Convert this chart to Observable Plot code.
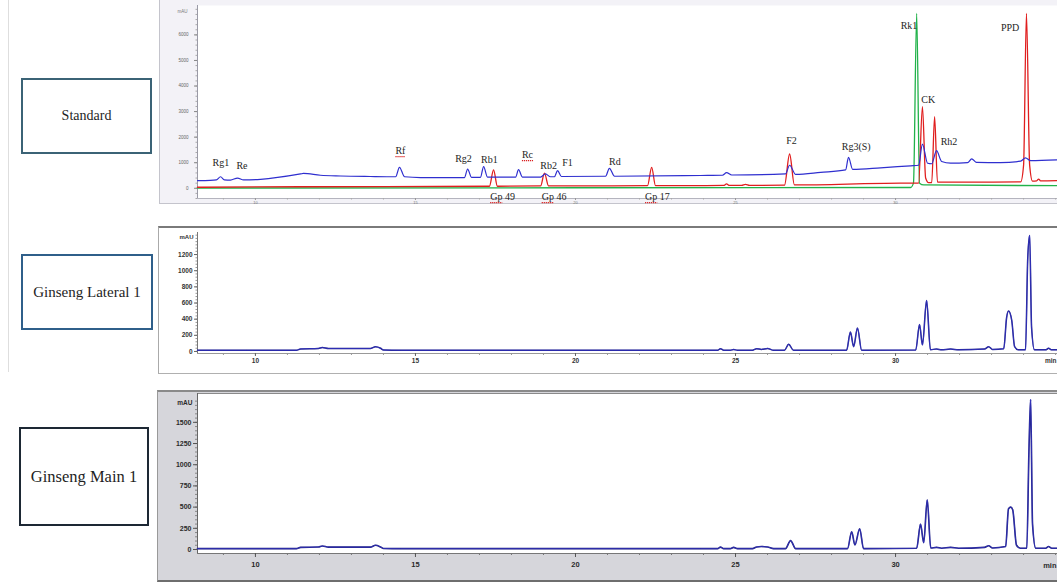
<!DOCTYPE html>
<html>
<head>
<meta charset="utf-8">
<script src="https://cdn.jsdelivr.net/npm/d3@7"></script>
<script src="https://cdn.jsdelivr.net/npm/@observablehq/plot@0.6"></script>
<style>
  html, body { margin: 0; padding: 0; background: #fff; width: 1057px; height: 584px; overflow: hidden; }
  body { position: relative; font-family: "Liberation Serif", "Times New Roman", serif; }
  .abs { position: absolute; }
  .box { position: absolute; box-sizing: border-box; display: flex; align-items: center; justify-content: center;
         background: #fff; color: #1e1e1e; font-family: "Liberation Serif", "Times New Roman", serif; white-space: nowrap; }
  .panel svg { display: block; }
</style>
</head>
<body>
<div class="abs" style="left:8px;top:0;width:1px;height:372px;background:#dedede"></div>

<div class="box" style="left:21px;top:78px;width:131px;height:76px;border:2px solid #3b6376;font-size:14px">Standard</div>
<div class="box" style="left:21px;top:254px;width:132px;height:76px;border:2px solid #2f5f8a;font-size:15px">Ginseng Lateral 1</div>
<div class="box" style="left:19px;top:427px;width:130px;height:99px;border:2px solid #1d2834;font-size:16.5px">Ginseng Main 1</div>

<!-- panel frames -->
<div class="abs" style="left:159px;top:0;width:898px;height:203px;border-left:1px solid #c4c4cc;border-bottom:1px solid #c4c4cc;background:#f3f2f7"></div>
<div class="abs" style="left:158px;top:226px;width:899px;height:145px;border-top:2px solid #7a7a7a;border-left:1px solid #aaa;border-bottom:1px solid #b0b0b0;background:#fff"></div>
<div class="abs" style="left:157px;top:390px;width:900px;height:188px;border-top:2px solid #8a8a8a;border-left:1px solid #999;border-bottom:2px solid #6e6e6e;background:#d6d6db"></div>

<div class="abs panel" id="std" style="left:160px;top:0"></div>
<div class="abs panel" id="lateral" style="left:159px;top:227px"></div>
<div class="abs panel" id="main" style="left:157px;top:390px"></div>

<script>
// Retention time window shared by all three chromatograms (min)
const timeDomain = [8.19, 35.06];

// Standard mixture, trace 1 (blue): [retention time, mAU]
const stdBlue = [
  [8.19,300],[8.59,310],[8.78,330],[8.91,450],[9.03,330],[9.22,320],[9.44,400],[9.63,330],
  [10.16,350],[11.41,560],[11.5,580],[12.03,510],[12.66,480],[13.59,460],[14.38,450],[14.5,820],
  [14.66,450],[15.16,420],[16.41,420],[16.53,420],[16.63,750],[16.75,430],[17.03,430],[17.13,850],
  [17.25,440],[17.66,440],[18.13,440],[18.22,730],[18.34,440],[18.91,440],[19.06,560],[19.22,450],
  [19.34,450],[19.44,690],[19.56,460],[20.94,470],[21.06,780],[21.22,470],[23.91,500],[24.59,510],
  [24.72,610],[24.88,520],[26.56,560],[26.69,900],[26.88,540],[27.66,620],[28.44,720],[28.53,1210],
  [28.66,740],[29.53,800],[30.47,880],[30.72,900],[30.84,1730],[31.0,980],[31.13,960],[31.28,1470],
  [31.44,1050],[31.72,980],[32.25,1000],[32.38,1150],[32.53,1010],[33.28,1000],[33.91,1060],
  [34.06,1190],[34.22,1080],[35.06,1110]
];

// Standard mixture, trace 2 (red)
const stdRed = [
  [8.19,40],[11.41,60],[17.31,80],[17.44,720],[17.56,80],[18.91,90],[19.03,590],[19.16,90],
  [22.25,100],[22.38,820],[22.5,100],[24.63,110],[24.72,170],[24.81,110],[25.19,110],[25.31,150],
  [25.44,110],[26.53,120],[26.69,1340],[26.84,130],[30.16,200],[30.72,200],[30.84,3190],[30.94,400],
  [31.03,220],[31.13,220],[31.22,2800],[31.31,240],[33.91,250],[34.0,900],[34.09,6840],[34.19,900],
  [34.28,280],[34.41,290],[34.47,360],[34.53,290],[35.06,300]
];

// Standard mixture, trace 3 (green)
const stdGreen = [
  [8.19,10],[20.0,20],[30.47,30],[30.56,200],[30.66,6840],[30.75,200],[30.88,130],[35.06,100]
];

// Ginseng lateral root extract
const lateralTrace = [
  [8.19,15],[11.28,15],[11.41,32],[11.97,38],[12.09,48],[12.28,36],[13.59,36],[13.75,58],[13.91,40],
  [14.0,18],[14.53,15],[23.91,15],[24.44,15],[24.53,35],[24.63,15],[24.84,15],[24.94,25],[25.06,15],
  [25.53,15],[25.66,35],[25.81,25],[26.0,38],[26.19,15],[26.53,15],[26.66,90],[26.81,15],
  [28.47,15],[28.59,240],[28.69,60],[28.81,290],[28.94,15],[30.63,18],[30.75,334],[30.84,80],
  [30.97,630],[31.09,22],[31.28,30],[31.44,20],[31.72,30],[31.97,20],[32.78,30],[32.91,60],[33.03,25],
  [33.38,35],[33.47,420],[33.53,500],[33.63,385],[33.72,60],[33.84,20],[34.06,20],[34.13,1150],
  [34.19,1435],[34.25,300],[34.34,20],[34.69,20],[34.78,40],[34.88,20],[35.06,20]
];

// Ginseng main root extract
const mainTrace = [
  [8.19,10],[11.28,10],[11.41,25],[11.97,30],[12.09,42],[12.28,28],[13.59,28],[13.75,50],[13.91,30],
  [14.0,12],[14.53,10],[23.91,10],[24.44,10],[24.53,28],[24.63,10],[24.84,10],[24.94,25],[25.06,10],
  [25.53,10],[25.66,30],[25.81,35],[26.0,30],[26.19,10],[26.56,10],[26.72,105],[26.88,10],
  [28.5,10],[28.63,210],[28.73,55],[28.88,245],[29.0,10],[30.66,15],[30.78,300],[30.88,80],
  [30.99,585],[31.1,18],[31.28,25],[31.44,15],[31.72,25],[31.97,15],[32.78,25],[32.91,45],[33.03,18],
  [33.44,35],[33.53,480],[33.6,500],[33.66,470],[33.78,50],[33.9,15],[34.1,15],[34.17,1200],
  [34.22,1770],[34.28,300],[34.38,15],[34.69,15],[34.78,35],[34.88,15],[35.06,15]
];

// Compound labels for the standard chromatogram
const compoundNames = ["Rg1","Re","Rf","Rg2","Rb1","Rc","Rb2","F1","Rd","F2","Rg3(S)","Rk1","CK","Rh2","PPD","Gp 49","Gp 46","Gp 17"];
const compoundTimes = [8.92,9.58,14.53,16.5,17.31,18.5,19.16,19.75,21.23,26.75,28.77,30.42,31.02,31.67,33.58,17.72,19.33,22.56];
const compoundLabelY = [1000,890,1470,1160,1120,1320,890,1000,1040,1860,1630,6360,3460,1820,6280,-330,-330,-330];
const flaggedNames = ["Rf","Rc","Gp 49","Gp 46","Gp 17"];

// Axis tick values
const stdYTicks = [0,1000,2000,3000,4000,5000,6000];
const lateralYTicks = [0,200,400,600,800,1000,1200];
const mainYTicks = [0,250,500,750,1000,1250,1500];
const timeTicks = [10,15,20,25,30];
const minuteTicks = d3.range(9, 36);

const plain = d3.format("d");
const toPoints = (arr) => arr.map(([t, v]) => ({t, v}));
const labels = compoundNames.map((name, i) => ({name, t: compoundTimes[i], y: compoundLabelY[i]}));

// measure label widths for the underline marks
const ctx = document.createElement("canvas").getContext("2d");
ctx.font = "10px 'Liberation Serif'";
const plotW = 860, pxPerMin = plotW / (timeDomain[1] - timeDomain[0]);
const underlines = labels.filter(d => flaggedNames.includes(d.name)).map(d => {
  const full = ctx.measureText(d.name).width / pxPerMin;
  const word = ctx.measureText(d.name.split(" ")[0]).width / pxPerMin;
  const x1 = d.t - full / 2;
  return {x1, x2: x1 + word, y: d.y};
});

const sans = "'Liberation Sans', Arial, sans-serif";

// ---- Standard panel ----
const stdDomain = [-400, 7150];
const std = Plot.plot({
  width: 897, height: 204,
  marginLeft: 37, marginRight: 0, marginTop: 5, marginBottom: 6,
  x: {domain: timeDomain},
  y: {domain: stdDomain},
  style: {background: "transparent", fontFamily: sans, fontSize: "4.5px", overflow: "hidden", color: "#666"},
  marks: [
    Plot.frame({fill: "white", stroke: "none"}),
    Plot.ruleX([timeDomain[0]], {stroke: "#9a9aa6", strokeWidth: 1}),
    Plot.ruleY([stdDomain[0]], {stroke: "#b4b4be", strokeWidth: 1}),
    Plot.axisY({ticks: d3.range(-400, 7100, 200), tickSize: 1.5, text: null, stroke: "#aaa", label: null}),
    Plot.axisY({ticks: stdYTicks, tickFormat: plain, tickSize: 3, tickPadding: 6, fontSize: 4.5, fill: "#666", stroke: "#888", label: null}),
    Plot.axisX({ticks: minuteTicks, tickSize: 1.5, text: null, stroke: "#aaa", label: null}),
    Plot.axisX({ticks: timeTicks, tickFormat: plain, tickSize: 2, tickPadding: 1, fontSize: 4, fill: "#777", stroke: "#999", label: null}),
    Plot.text(["mAU"], {frameAnchor: "top-left", dx: -10, dy: 4, textAnchor: "end", fontSize: 4.5, fill: "#777"}),
    Plot.line(toPoints(stdGreen), {x: "t", y: "v", stroke: "#21b24a", strokeWidth: 1.3, curve: "monotone-x"}),
    Plot.line(toPoints(stdRed), {x: "t", y: "v", stroke: "#e01e1e", strokeWidth: 1.3, curve: "monotone-x"}),
    Plot.line(toPoints(stdBlue), {x: "t", y: "v", stroke: "#2f2fcf", strokeWidth: 1.2, curve: "monotone-x"}),
    Plot.link(underlines, {x1: "x1", x2: "x2", y1: "y", y2: "y", dy: 6, stroke: "#d92020", strokeWidth: 1.3, strokeDasharray: "1.2,0.8"}),
    Plot.text(labels, {x: "t", y: "y", text: "name", fontFamily: "'Liberation Serif', 'Times New Roman', serif", fontSize: 10, fill: "#1e1e1e"})
  ]
});
document.getElementById("std").append(std);

// ---- Lateral root panel ----
const latDomain = [-25, 1473];
const lateral = Plot.plot({
  width: 898, height: 145,
  marginLeft: 38, marginRight: 0, marginTop: 5, marginBottom: 19,
  x: {domain: timeDomain},
  y: {domain: latDomain},
  style: {background: "transparent", fontFamily: sans, fontSize: "6.5px", fontWeight: "bold", overflow: "hidden", color: "#333"},
  marks: [
    Plot.frame({fill: "white", stroke: "none"}),
    Plot.ruleX([timeDomain[0]], {stroke: "#777", strokeWidth: 1}),
    Plot.ruleY([latDomain[0]], {stroke: "#999", strokeWidth: 1}),
    Plot.axisY({ticks: d3.range(0, 1450, 40), tickSize: 1.5, text: null, stroke: "#999", label: null}),
    Plot.axisY({ticks: lateralYTicks, tickFormat: plain, tickSize: 3, tickPadding: 2, fontSize: 6.5, fontWeight: "bold", fill: "#333", stroke: "#666", label: null}),
    Plot.axisX({ticks: minuteTicks, tickSize: 2, text: null, stroke: "#999", label: null}),
    Plot.axisX({ticks: timeTicks, tickFormat: plain, tickSize: 3, tickPadding: 2, fontSize: 6.5, fontWeight: "bold", fill: "#333", stroke: "#666", label: null}),
    Plot.text(["mAU"], {frameAnchor: "top-left", dx: -4, dy: 2, textAnchor: "end", fontSize: 6, fontWeight: "bold", fill: "#333"}),
    Plot.text(["min"], {frameAnchor: "bottom-right", dx: -1, dy: 9, textAnchor: "end", fontSize: 6.5, fontWeight: "bold", fill: "#333"}),
    Plot.line(toPoints(lateralTrace), {x: "t", y: "v", stroke: "#1f1f86", strokeWidth: 1.5, curve: "monotone-x"}),
    Plot.line(toPoints(lateralTrace), {x: "t", y: "v", stroke: "#3a3ad8", strokeWidth: 0.6, curve: "monotone-x"})
  ]
});
document.getElementById("lateral").append(lateral);

// ---- Main root panel ----
const mainDomain = [-47, 1840];
const main = Plot.plot({
  width: 900, height: 190,
  marginLeft: 40, marginRight: 0, marginTop: 3, marginBottom: 27,
  x: {domain: timeDomain},
  y: {domain: mainDomain},
  style: {background: "transparent", fontFamily: sans, fontSize: "7px", fontWeight: "bold", overflow: "hidden", color: "#333"},
  marks: [
    Plot.frame({fill: "white", stroke: "#8a8a8a", strokeWidth: 1}),
    Plot.ruleX([timeDomain[0]], {stroke: "#666", strokeWidth: 1}),
    Plot.ruleY([mainDomain[0]], {stroke: "#777", strokeWidth: 1}),
    Plot.axisY({ticks: d3.range(0, 1800, 50), tickSize: 2, text: null, stroke: "#888", label: null}),
    Plot.axisY({ticks: mainYTicks, tickFormat: plain, tickSize: 4, tickPadding: 2, fontSize: 7, fontWeight: "bold", fill: "#2a2a2a", stroke: "#555", label: null}),
    Plot.axisX({ticks: minuteTicks, tickSize: 2, text: null, stroke: "#777", label: null}),
    Plot.axisX({ticks: timeTicks, tickFormat: plain, tickSize: 4, tickPadding: 4, fontSize: 7.5, fontWeight: "bold", fill: "#2a2a2a", stroke: "#555", label: null}),
    Plot.text(["mAU"], {frameAnchor: "top-left", dx: -5, dy: 7, textAnchor: "end", fontSize: 6.5, fontWeight: "bold", fill: "#2a2a2a"}),
    Plot.text(["min"], {frameAnchor: "bottom-right", dx: -1, dy: 14, textAnchor: "end", fontSize: 7.5, fontWeight: "bold", fill: "#2a2a2a"}),
    Plot.line(toPoints(mainTrace), {x: "t", y: "v", stroke: "#1f1f80", strokeWidth: 1.6, curve: "monotone-x"}),
    Plot.line(toPoints(mainTrace), {x: "t", y: "v", stroke: "#3a3ad0", strokeWidth: 0.6, curve: "monotone-x"})
  ]
});
document.getElementById("main").append(main);
</script>
</body>
</html>
